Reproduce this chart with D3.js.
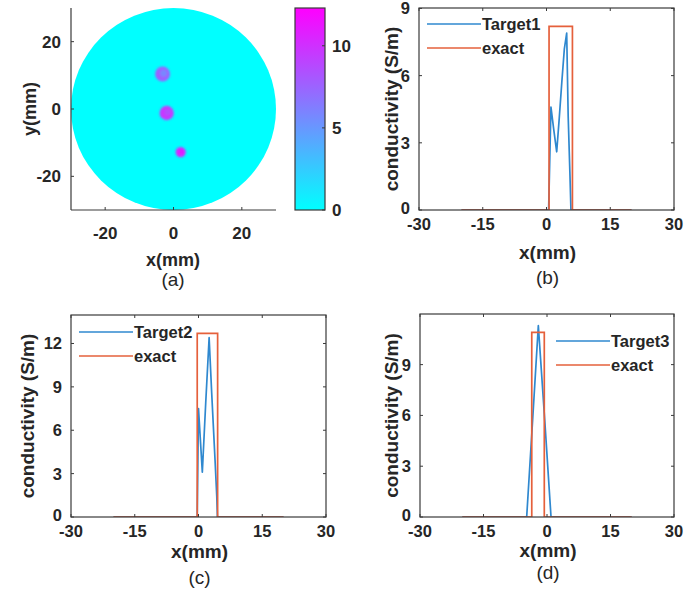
<!DOCTYPE html>
<html><head><meta charset="utf-8">
<script src="https://cdn.jsdelivr.net/npm/d3@7"></script>
<style>
body{margin:0;background:#fff}
svg{display:block}
text{font-family:"Liberation Sans",Arial,Helvetica,sans-serif;fill:#262626}
</style>
</head><body>
<svg id="fig" width="685" height="592"></svg>
<script>
// ---------- data ----------
const profileXTicks = [-30, -15, 0, 15, 30];
const yTicksB = [0, 3, 6, 9];
const yTicksC = [0, 3, 6, 9, 12];
const yTicksD = [0, 3, 6, 9];
const mapTicks = [-20, 0, 20];
const colorbarTicks = [0, 5, 10];
const colorbarMax = 12.3;

// reconstructed conductivity map (mm, S/m)
const diskRadius = 30;
const inclusionX = [-3.2, -2.0, 2.1];
const inclusionY = [10.4, -1.2, -12.8];
const inclusionR = [2.2, 2.1, 1.5];
const inclusionRim = [7.6, 9.6, 10.4];
const inclusionCore = [5.8, 8.6, 10.8];

// profiles through each target
const target1X = [-20, 0.5, 1.05, 1.7, 2.4, 3.0, 3.6, 4.2, 4.75, 5.1, 5.5, 5.75, 20];
const target1Y = [0, 0, 4.6, 3.6, 2.6, 4.1, 5.7, 7.2, 7.9, 4.2, 1.7, 0, 0];
const exact1X = [-20, 0.6, 0.6, 6.1, 6.1, 20];
const exact1Y = [0, 0, 8.2, 8.2, 0, 0];

const target2X = [-20, -0.3, 0.0, 0.9, 1.7, 2.5, 3.1, 3.9, 4.3, 4.45, 20];
const target2Y = [0, 0, 7.5, 3.1, 7.9, 12.4, 8.6, 3.9, 1.4, 0, 0];
const exact2X = [-20, -0.3, -0.3, 4.5, 4.5, 20];
const exact2Y = [0, 0, 12.7, 12.7, 0, 0];

const target3X = [-20, -4.8, -3.4, -2.05, -0.5, 0.95, 20];
const target3Y = [0, 0, 5.7, 11.3, 5.6, 0, 0];
const exact3X = [-20, -3.6, -3.6, -0.64, -0.64, 20];
const exact3Y = [0, 0, 10.9, 10.9, 0, 0];

// ---------- drawing ----------
const svg = d3.select("#fig");
const AX = "#3a3a3a";
const BLUE = "#2f88cf", RED = "#e5603b";
const zip = (xs, ys) => xs.map((x, i) => [x, ys[i]]);

const defs = svg.append("defs");
defs.append("filter").attr("id", "soft")
  .attr("x", "-50%").attr("y", "-50%").attr("width", "200%").attr("height", "200%")
  .append("feGaussianBlur").attr("stdDeviation", 1.1);

// ---- panel (a): conductivity map ----
(function () {
  const L = 71, R = 276, T = 8, B = 210;
  const x = d3.scaleLinear().domain([-30, 30]).range([L, R]);
  const y = d3.scaleLinear().domain([-30, 30]).range([B, T]);
  const col = d3.scaleLinear().domain([0, colorbarMax]).range(["#00ffff", "#ff00ff"]);
  const g = svg.append("g");

  g.append("ellipse")
    .attr("cx", x(0)).attr("cy", y(0))
    .attr("rx", x(diskRadius) - x(0)).attr("ry", y(0) - y(diskRadius))
    .attr("fill", col(0));

  const inc = g.append("g").attr("filter", "url(#soft)");
  inclusionX.forEach((cx, i) => {
    const rx = x(inclusionR[i]) - x(0);
    inc.append("circle").attr("cx", x(cx)).attr("cy", y(inclusionY[i]))
      .attr("r", rx).attr("fill", col(inclusionRim[i]));
    inc.append("circle").attr("cx", x(cx) + rx * 0.15).attr("cy", y(inclusionY[i]) - rx * 0.1)
      .attr("r", rx * 0.45).attr("fill", col(inclusionCore[i]));
  });

  // left and bottom axes
  g.append("line").attr("x1", L).attr("x2", L).attr("y1", T).attr("y2", B)
    .attr("stroke", AX).attr("stroke-width", 1.2);
  g.append("line").attr("x1", L).attr("x2", R).attr("y1", B).attr("y2", B)
    .attr("stroke", AX).attr("stroke-width", 1.2);
  mapTicks.forEach(v => {
    g.append("line").attr("x1", x(v)).attr("x2", x(v)).attr("y1", B).attr("y2", B - 3)
      .attr("stroke", AX);
    g.append("line").attr("x1", L).attr("x2", L + 3).attr("y1", y(v)).attr("y2", y(v))
      .attr("stroke", AX);
    g.append("text").attr("x", x(v)).attr("y", 239).attr("text-anchor", "middle")
      .attr("font-size", 17).attr("font-weight", "bold").text(v);
    g.append("text").attr("x", 61).attr("y", y(v) + 6).attr("text-anchor", "end")
      .attr("font-size", 17).attr("font-weight", "bold").text(v);
  });
  g.append("text").attr("transform", "translate(36,109) rotate(-90)")
    .attr("text-anchor", "middle").attr("font-size", 18).attr("font-weight", "bold").text("y(mm)");
  g.append("text").attr("x", 173).attr("y", 266).attr("text-anchor", "middle")
    .attr("font-size", 18).attr("font-weight", "bold").text("x(mm)");
  g.append("text").attr("x", 173).attr("y", 286).attr("text-anchor", "middle")
    .attr("font-size", 19).text("(a)");

  // colorbar
  const cbL = 295, cbR = 325;
  const cb = d3.scaleLinear().domain([0, colorbarMax]).range([B, T]);
  const grad = defs.append("linearGradient").attr("id", "cool")
    .attr("x1", 0).attr("y1", 1).attr("x2", 0).attr("y2", 0);
  grad.append("stop").attr("offset", 0).attr("stop-color", col(0));
  grad.append("stop").attr("offset", 1).attr("stop-color", col(colorbarMax));
  g.append("rect").attr("x", cbL).attr("y", T).attr("width", cbR - cbL).attr("height", B - T)
    .attr("fill", "url(#cool)").attr("stroke", AX).attr("stroke-width", 1.2);
  colorbarTicks.forEach(v => {
    g.append("line").attr("x1", cbR).attr("x2", cbR - 3).attr("y1", cb(v)).attr("y2", cb(v))
      .attr("stroke", AX);
    g.append("text").attr("x", 332).attr("y", cb(v) + 6).attr("font-size", 17)
      .attr("font-weight", "bold").text(v);
  });
})();

// ---- profile panels (b), (c), (d) ----
function profile(cfg) {
  const [L, R, T, B] = cfg.box;
  const yMax = d3.max(cfg.exactY) * 1.1;
  const x = d3.scaleLinear().domain([-30, 30]).range([L, R]);
  const y = d3.scaleLinear().domain([0, yMax]).range([B, T]);
  const g = svg.append("g");
  const clipId = "clip" + cfg.tag;
  defs.append("clipPath").attr("id", clipId).append("rect")
    .attr("x", L).attr("y", T).attr("width", R - L).attr("height", B - T);

  const line = d3.line().x(d => x(d[0])).y(d => y(d[1]));
  const plot = g.append("g").attr("clip-path", `url(#${clipId})`);
  plot.append("path").attr("d", line(zip(cfg.targetX, cfg.targetY)))
    .attr("fill", "none").attr("stroke", BLUE).attr("stroke-width", 1.7)
    .attr("stroke-linejoin", "round");
  plot.append("path").attr("d", line(zip(cfg.exactX, cfg.exactY)))
    .attr("fill", "none").attr("stroke", RED).attr("stroke-width", 1.7);

  // box and inward ticks
  g.append("rect").attr("x", L).attr("y", T).attr("width", R - L).attr("height", B - T)
    .attr("fill", "none").attr("stroke", AX).attr("stroke-width", 1.2);
  profileXTicks.forEach(v => {
    g.append("line").attr("x1", x(v)).attr("x2", x(v)).attr("y1", B).attr("y2", B - 3).attr("stroke", AX);
    g.append("line").attr("x1", x(v)).attr("x2", x(v)).attr("y1", T).attr("y2", T + 3).attr("stroke", AX);
    g.append("text").attr("x", x(v)).attr("y", B + 19.5).attr("text-anchor", "middle")
      .attr("font-size", 16.5).attr("font-weight", "bold").text(v);
  });
  cfg.yTicks.forEach(v => {
    g.append("line").attr("x1", L).attr("x2", L + 3).attr("y1", y(v)).attr("y2", y(v)).attr("stroke", AX);
    g.append("line").attr("x1", R).attr("x2", R - 3).attr("y1", y(v)).attr("y2", y(v)).attr("stroke", AX);
    g.append("text").attr("x", L - 9).attr("y", y(v) + (v === 0 ? 4 : 6)).attr("text-anchor", "end")
      .attr("font-size", 16.5).attr("font-weight", "bold").text(v);
  });

  g.append("text").attr("transform", `translate(${cfg.yLabelX},${(T + B) / 2}) rotate(-90)`)
    .attr("text-anchor", "middle").attr("font-size", 19).attr("font-weight", "bold")
    .text("conductivity (S/m)");
  g.append("text").attr("x", (L + R) / 2 + 1).attr("y", cfg.xLabelY).attr("text-anchor", "middle")
    .attr("font-size", 19).attr("font-weight", "bold").text("x(mm)");
  g.append("text").attr("x", (L + R) / 2 + 1).attr("y", cfg.tagY).attr("text-anchor", "middle")
    .attr("font-size", 19).text(`(${cfg.tag})`);

  // legend
  const [lx, ly] = cfg.legend;
  [[cfg.name, BLUE], ["exact", RED]].forEach(([label, c], i) => {
    const yy = ly + i * 24;
    g.append("line").attr("x1", lx).attr("x2", lx + 54).attr("y1", yy).attr("y2", yy)
      .attr("stroke", c).attr("stroke-width", 1.7);
    g.append("text").attr("x", lx + 55).attr("y", yy + 6).attr("font-size", 16.5)
      .attr("font-weight", "bold").text(label);
  });
}

profile({ tag: "b", name: "Target1", box: [419, 674, 8, 210], yTicks: yTicksB,
  targetX: target1X, targetY: target1Y, exactX: exact1X, exactY: exact1Y,
  yLabelX: 398, xLabelY: 259, tagY: 284, legend: [427, 24] });
profile({ tag: "c", name: "Target2", box: [71, 326, 315, 517], yTicks: yTicksC,
  targetX: target2X, targetY: target2Y, exactX: exact2X, exactY: exact2Y,
  yLabelX: 34, xLabelY: 558, tagY: 584, legend: [79, 332] });
profile({ tag: "d", name: "Target3", box: [420, 674, 314, 517], yTicks: yTicksD,
  targetX: target3X, targetY: target3Y, exactX: exact3X, exactY: exact3Y,
  yLabelX: 398, xLabelY: 557, tagY: 579, legend: [556, 341] });
</script>
</body></html>
